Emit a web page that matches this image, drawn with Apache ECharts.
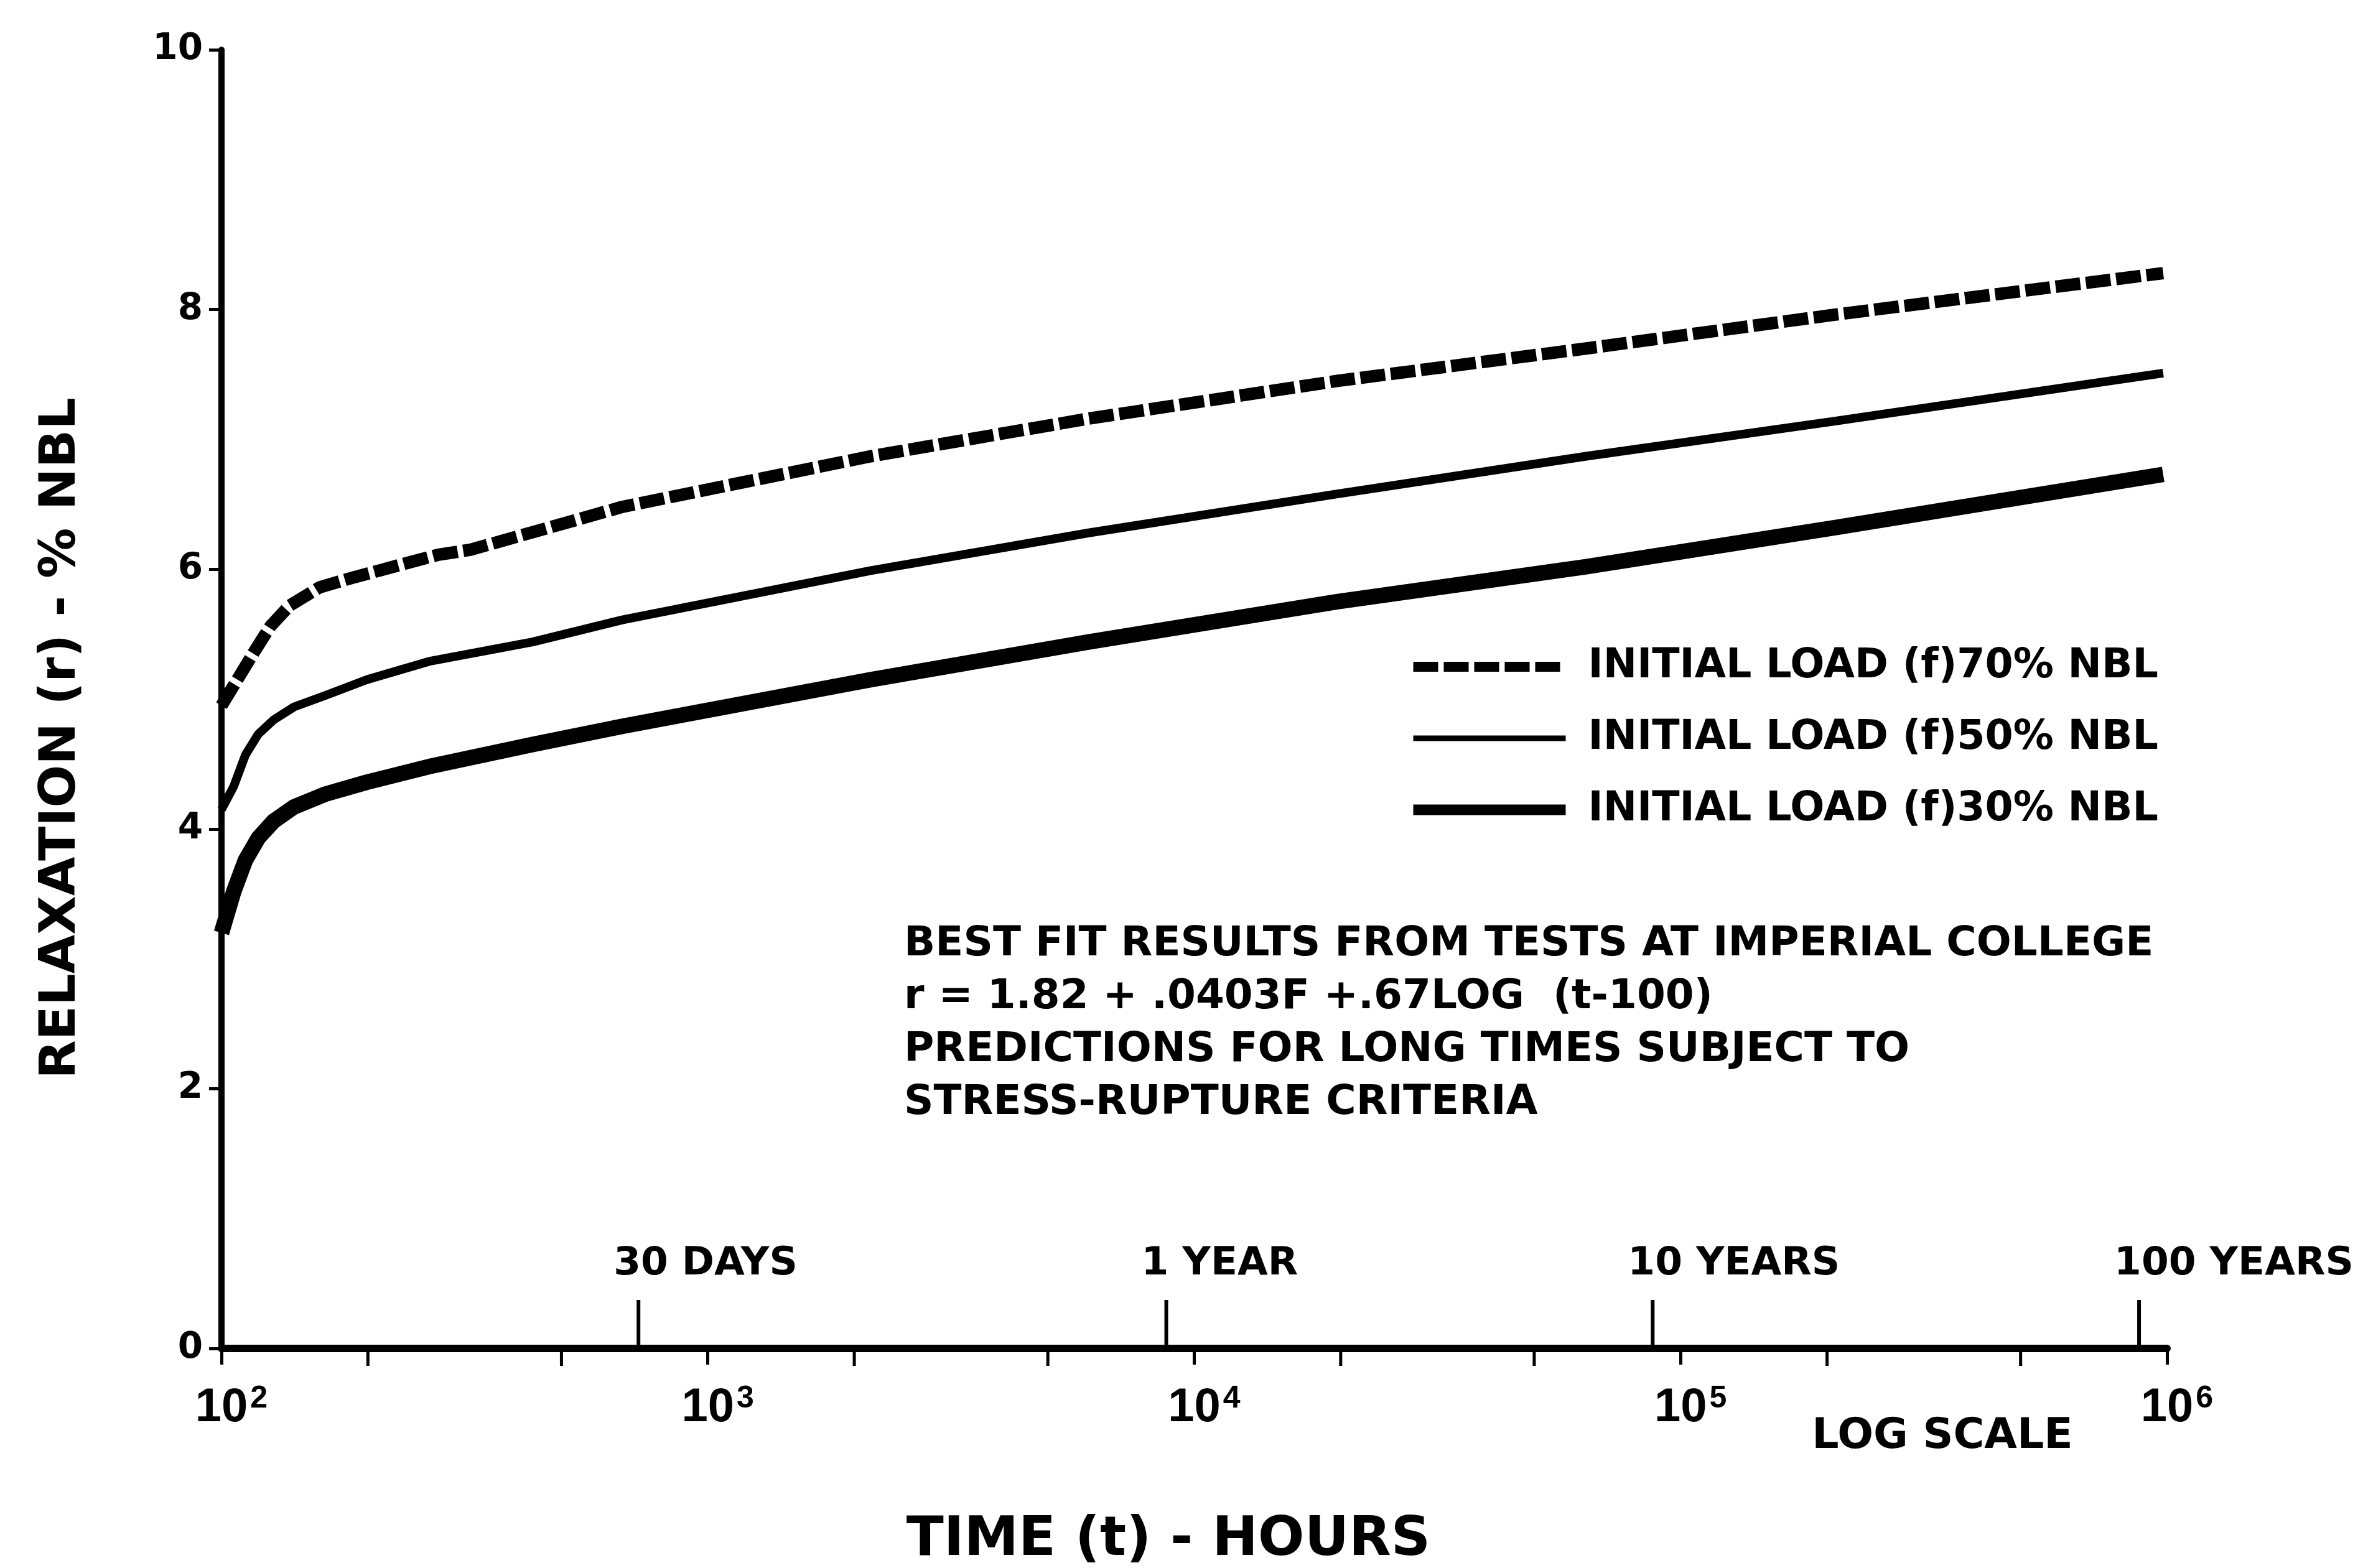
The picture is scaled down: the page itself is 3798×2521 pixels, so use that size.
<!DOCTYPE html>
<html>
<head>
<meta charset="utf-8">
<script src="https://cdn.jsdelivr.net/npm/echarts@6/dist/echarts.min.js"></script>
<style>
  html, body { margin: 0; padding: 0; background: #fff; }
  #main { width: 3798px; height: 2521px; }
</style>
</head>
<body>
<div id="main"></div>
<script>
// values: time in hours (log scale), relaxation in % NBL
const time70 = [100, 109, 117, 126, 138, 159, 184, 211, 242, 278, 325, 667, 2163, 6067, 19680, 63970, 207500, 982000];
const relax70 = [4.95, 5.18, 5.37, 5.56, 5.72, 5.86, 5.93, 5.99, 6.05, 6.11, 6.15, 6.48, 6.87, 7.16, 7.45, 7.70, 7.96, 8.28];
const time50 = [100, 106, 112, 119, 128, 141, 164, 199, 267, 436, 667, 2163, 6067, 19680, 63970, 207500, 982000];
const relax50 = [4.15, 4.33, 4.57, 4.73, 4.84, 4.94, 5.03, 5.15, 5.29, 5.44, 5.61, 5.99, 6.28, 6.58, 6.87, 7.14, 7.51];
const time30 = [100, 106, 112, 119, 128, 141, 164, 199, 267, 436, 667, 2163, 6067, 19680, 63970, 207500, 982000];
const relax30 = [3.2, 3.52, 3.76, 3.93, 4.06, 4.17, 4.27, 4.36, 4.48, 4.65, 4.79, 5.15, 5.44, 5.75, 6.02, 6.32, 6.73];

const seriesNames = ['INITIAL LOAD (f)70% NBL', 'INITIAL LOAD (f)50% NBL', 'INITIAL LOAD (f)30% NBL'];

// time markers drawn above the time axis
const markerHours = [720, 8760, 87600, 876000];
const markerLabels = ['30 DAYS', '1 YEAR', '10 YEARS', '100 YEARS'];
// small ticks below the axis between the decades
const minorTickHours = [200, 500, 2000, 5000, 20000, 50000, 200000, 500000];

const noteLines = [
  'BEST FIT RESULTS FROM TESTS AT IMPERIAL COLLEGE',
  'r = 1.82 + .0403F +.67LOG  (t-100)',
  'PREDICTIONS FOR LONG TIMES SUBJECT TO',
  'STRESS-RUPTURE CRITERIA'
];

const FONT = '"DejaVu Sans", sans-serif';
const zip = (xs, ys) => xs.map((x, i) => [x, ys[i]]);

const chart = echarts.init(document.getElementById('main'));

const option = {
  animation: false,
  backgroundColor: '#fff',
  color: ['#000', '#000', '#000'],
  grid: { left: 356, right: 315, top: 80, bottom: 353 },
  xAxis: {
    type: 'log',
    logBase: 10,
    min: 100,
    max: 1000000,
    splitLine: { show: false },
    minorTick: { show: false },
    axisLine: { show: true, lineStyle: { color: '#000', width: 12 } },
    axisTick: { show: true, inside: false, length: 26, lineStyle: { color: '#000', width: 5 } },
    axisLabel: {
      margin: 56,
      color: '#000',
      formatter: v => '{b|10}{s|' + Math.round(Math.log10(v)) + '}',
      rich: {
        b: { fontSize: 76, fontWeight: 'bold', fontFamily: '"Liberation Sans", sans-serif', lineHeight: 80, padding: [0, 0, 0, 32], color: '#000' },
        s: { fontSize: 50, fontWeight: 'bold', fontFamily: '"Liberation Sans", sans-serif', lineHeight: 46, verticalAlign: 'top', padding: [0, 0, 0, 4], color: '#000' }
      }
    }
  },
  yAxis: {
    type: 'value',
    min: 0,
    max: 10,
    interval: 2,
    splitLine: { show: false },
    axisLine: { show: true, lineStyle: { color: '#000', width: 10 } },
    axisTick: { show: true, inside: false, length: 20, lineStyle: { color: '#000', width: 5 } },
    axisLabel: { margin: 30, color: '#000', fontSize: 58, fontWeight: 'bold', fontFamily: FONT }
  },
  legend: {
    orient: 'vertical',
    left: 2258,
    top: 1034,
    itemWidth: 245,
    itemHeight: 30,
    itemGap: 49,
    selectedMode: false,
    itemStyle: { opacity: 0 },
    textStyle: { color: '#000', fontSize: 65, fontWeight: 'bold', fontFamily: FONT, lineHeight: 66, padding: [0, 0, 0, 31] },
    data: [
      { name: seriesNames[0], lineStyle: { width: 16 } },
      { name: seriesNames[1], lineStyle: { width: 9 } },
      { name: seriesNames[2], lineStyle: { width: 17 } }
    ]
  },
  graphic: [
    {
      type: 'text', x: 1453, y: 1476,
      style: { text: noteLines.join('\n'), fill: '#000', fontSize: 66, fontWeight: 'bold', fontFamily: FONT, lineHeight: 85, align: 'left', verticalAlign: 'top' }
    },
    {
      type: 'text', x: 1878, y: 2477,
      style: { text: 'TIME (t) - HOURS', fill: '#000', fontSize: 88, fontWeight: 'bold', fontFamily: FONT, align: 'center', verticalAlign: 'middle' }
    },
    {
      type: 'text', x: 99, y: 1187, rotation: Math.PI / 2,
      style: { text: 'RELAXATION (r) - % NBL', fill: '#000', fontSize: 81, fontWeight: 'bold', fontFamily: FONT, align: 'center', verticalAlign: 'middle' }
    },
    {
      type: 'text', x: 3122, y: 2310,
      style: { text: 'LOG SCALE', fill: '#000', fontSize: 68, fontWeight: 'bold', fontFamily: FONT, align: 'center', verticalAlign: 'middle' }
    }
  ],
  series: [
    {
      name: seriesNames[0], type: 'line', data: zip(time70, relax70),
      symbol: 'none', smooth: false,
      itemStyle: { color: '#000' },
      lineStyle: { color: '#000', width: 20, type: [40, 9], cap: 'butt', join: 'round' }
    },
    {
      name: seriesNames[1], type: 'line', data: zip(time50, relax50),
      symbol: 'none', smooth: false,
      itemStyle: { color: '#000' },
      lineStyle: { color: '#000', width: 14, type: 'solid', join: 'round' }
    },
    {
      name: seriesNames[2], type: 'line', data: zip(time30, relax30),
      symbol: 'none', smooth: false,
      itemStyle: { color: '#000' },
      lineStyle: { color: '#000', width: 25, type: 'solid', join: 'round' }
    },
    {
      type: 'custom', clip: false, silent: true,
      data: minorTickHours.map(h => [h, 0]),
      renderItem: (params, api) => {
        const p = api.coord([api.value(0), 0]);
        return { type: 'line', shape: { x1: p[0], y1: p[1], x2: p[0], y2: p[1] + 28 }, style: { stroke: '#000', lineWidth: 5 } };
      }
    },
    {
      type: 'custom', clip: false, silent: true,
      data: markerHours.map(h => [h, 0]),
      renderItem: (params, api) => {
        const p = api.coord([api.value(0), 0]);
        return {
          type: 'group',
          children: [
            { type: 'line', shape: { x1: p[0], y1: p[1], x2: p[0], y2: p[1] - 78 }, style: { stroke: '#000', lineWidth: 6 } },
            {
              type: 'text', x: p[0] - 40, y: p[1] - 135,
              style: { text: markerLabels[params.dataIndex], fill: '#000', fontSize: 63, fontWeight: 'bold', fontFamily: FONT, align: 'left', verticalAlign: 'middle' }
            }
          ]
        };
      }
    }
  ]
};

chart.setOption(option);
</script>
</body>
</html>
